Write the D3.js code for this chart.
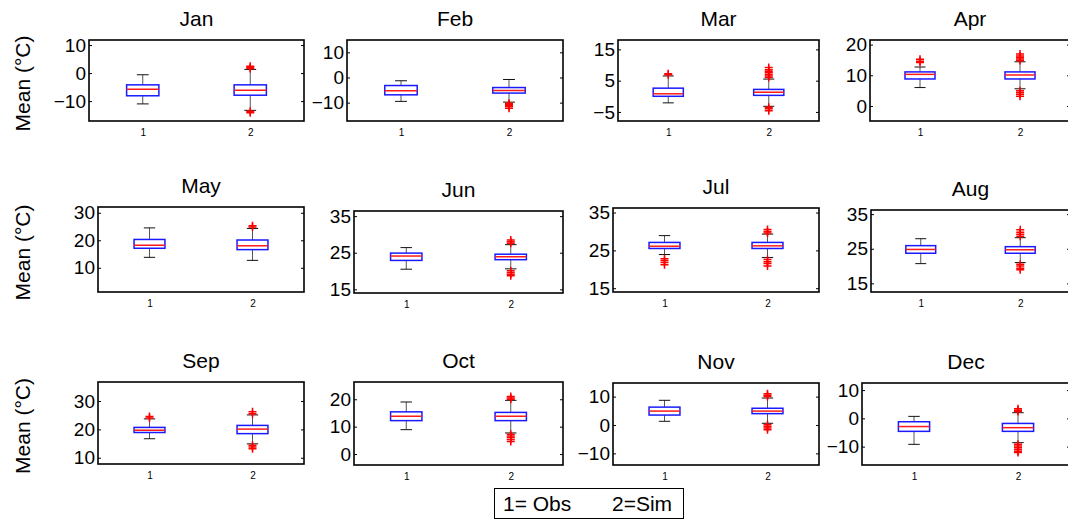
<!DOCTYPE html>
<html>
<head>
<meta charset="utf-8">
<script src="https://cdn.jsdelivr.net/npm/d3@7"></script>
<style>
  body { margin: 0; background: #fff; }
  svg { display: block; font-family: "Liberation Sans", Arial, sans-serif; }
</style>
</head>
<body>
<svg></svg>
<script>
const width = 1068;
const height = 519;

const months = ["Jan", "Feb", "Mar", "Apr", "May", "Jun", "Jul", "Aug", "Sep", "Oct", "Nov", "Dec"];
const groups = [1, 2];
const yLabel = "Mean (°C)";
const legendItems = ["1= Obs", "2=Sim"];

const yTicks = [
	[-10, 0, 10], [-10, 0, 10], [-5, 5, 15], [0, 10, 20],
	[10, 20, 30], [15, 25, 35], [15, 25, 35], [15, 25, 35],
	[10, 20, 30], [0, 10, 20], [-10, 0, 10], [-10, 0, 10]
];
const yLimits = [
	[-17.1, 11.8], [-17.3, 14.9], [-7.9, 18], [-4.9, 21.5],
	[1.2, 32.1], [14, 36.4], [14, 36.2], [12.5, 36.2],
	[7.8, 36.7], [-4, 26.3], [-14.1, 14.8], [-16.5, 12.5]
];

// [lower whisker, q1, median, q3, upper whisker]
const obsStats = [
	[-11, -8.1, -5.8, -4.2, -0.6],
	[-9.5, -6.9, -5.3, -3.2, -1.3],
	[-2.1, 0, 0.8, 2.6, 6.5],
	[6.0, 8.8, 10.3, 11.1, 12.7],
	[13.8, 17.1, 18.2, 20.3, 24.5],
	[20.5, 22.9, 24.1, 24.9, 26.4],
	[23.9, 25.5, 26.1, 27.1, 28.9],
	[20.7, 23.7, 24.8, 25.9, 27.9],
	[16.7, 18.9, 19.7, 20.7, 23.7],
	[8.9, 12.2, 13.8, 15.4, 19.0],
	[1.3, 3.5, 4.9, 6.3, 8.7],
	[-9.2, -4.6, -2.9, -1.2, 0.7]
];
const simStats = [
	[-13.3, -7.9, -6.1, -4.2, 1.3],
	[-9.8, -6.2, -5.2, -4.0, -0.8],
	[-3.2, 0.3, 1.3, 2.2, 5.5],
	[5.6, 8.8, 10.1, 11.1, 14.4],
	[12.7, 16.6, 18.0, 20.1, 24.3],
	[20.6, 23.1, 23.9, 24.6, 27.2],
	[23.1, 25.5, 26.2, 27.1, 29.3],
	[21.0, 23.7, 24.7, 25.6, 28.2],
	[14.9, 18.5, 20.1, 21.4, 25.1],
	[7.7, 12.2, 13.8, 15.2, 19.6],
	[0.6, 4.0, 4.9, 5.9, 9.5],
	[-8.6, -4.6, -3.3, -1.8, 2.0]
];
const obsOutliers = [
	[], [], [6.9, 7.2], [14.2, 14.6, 15.2],
	[], [], [22.8, 22.3, 21.8, 21.2], [],
	[24.0, 24.5], [], [], []
];
const simOutliers = [
	[1.6, 2.0, 2.4, -13.6, -14.2],
	[-10.2, -10.6, -11, -11.5, -12.2],
	[6, 6.5, 7, 7.5, 8, 8.5, 9.2, -3.5, -4.0, -4.6],
	[14.8, 15.3, 15.8, 16.3, 16.9, 5.0, 4.4, 3.8, 3.2],
	[24.8, 25.3],
	[27.6, 28.0, 28.5, 20.1, 19.6, 19.1, 18.7],
	[29.6, 30.0, 30.5, 22.6, 22.0, 21.5, 20.9],
	[28.6, 29.2, 29.8, 30.5, 20.5, 20, 19.4, 18.9],
	[25.5, 26.2, 14.4, 13.8, 13.2],
	[20, 20.5, 21, 7.2, 6.6, 6.0, 5.3, 4.6],
	[10, 10.5, 11, 0.1, -0.5, -1.1, -1.7],
	[2.4, 2.9, 3.4, -9.2, -9.8, -10.4, -11, -11.6, -12.1]
];

// axes boxes in pixels: [left, top, right, bottom]
const panels = [
	[89, 40, 304, 121], [347, 40, 563, 121], [618, 40, 819, 121], [870, 40, 1070, 121],
	[98, 207, 304, 292], [354, 211, 563, 293], [613, 208, 819, 292], [871, 210, 1070, 292],
	[98, 382, 304, 464], [354, 382, 563, 465], [613, 383, 819, 465], [862, 383, 1070, 465]
];

const svg = d3.select("svg").attr("width", width).attr("height", height);

function drawBox(g, x, y, stats, outliers, pos) {
	const [lo, q1, med, q3, hi] = stats;
	const cx = x(pos);
	const halfBox = (x(pos + 0.15) - x(pos - 0.15)) / 2;
	const halfCap = (x(pos + 0.055) - x(pos - 0.055)) / 2;
	const b = g.append("g");

	// whiskers
	b.append("line").attr("x1", cx).attr("x2", cx).attr("y1", y(q3)).attr("y2", y(hi))
		.attr("stroke", "#555").attr("stroke-width", 1);
	b.append("line").attr("x1", cx).attr("x2", cx).attr("y1", y(q1)).attr("y2", y(lo))
		.attr("stroke", "#555").attr("stroke-width", 1);
	[lo, hi].forEach(v => {
		b.append("line").attr("x1", cx - halfCap).attr("x2", cx + halfCap)
			.attr("y1", y(v)).attr("y2", y(v))
			.attr("stroke", "#111").attr("stroke-width", 1);
	});

	// box
	b.append("rect")
		.attr("x", cx - halfBox).attr("y", y(q3))
		.attr("width", halfBox * 2).attr("height", y(q1) - y(q3))
		.attr("fill", "none").attr("stroke", "#1a1aff").attr("stroke-width", 1.5);

	// median
	b.append("line").attr("x1", cx - halfBox).attr("x2", cx + halfBox)
		.attr("y1", y(med)).attr("y2", y(med))
		.attr("stroke", "#ff1a1a").attr("stroke-width", 1.5);

	// outliers
	const s = 4;
	b.selectAll(".out").data(outliers).enter().append("path")
		.attr("class", "out")
		.attr("d", v => `M${cx - s},${y(v)}H${cx + s}M${cx},${y(v) - s}V${y(v) + s}`)
		.attr("stroke", "#ff0000").attr("stroke-width", 1.5).attr("fill", "none");
}

months.forEach((m, i) => {
	const [left, top, right, bottom] = panels[i];
	const x = d3.scaleLinear().domain([0.5, 2.5]).range([left, right]);
	const y = d3.scaleLinear().domain(yLimits[i]).range([bottom, top]);
	const g = svg.append("g");

	g.append("text")
		.attr("x", (left + right) / 2).attr("y", top - 14)
		.attr("text-anchor", "middle")
		.attr("font-size", 21)
		.text(m);

	// y axis left with labels, right without
	const ax = g.append("g").attr("transform", `translate(${left},0)`)
		.call(d3.axisLeft(y).tickValues(yTicks[i]).tickSize(-3).tickPadding(3));
	ax.select(".domain").remove();
	ax.selectAll("text").attr("font-size", 19).attr("fill", "#000")
		.attr("font-family", "Liberation Sans, Arial, sans-serif");
	ax.selectAll("line").attr("stroke", "#000");

	const axr = g.append("g").attr("transform", `translate(${right},0)`)
		.call(d3.axisRight(y).tickValues(yTicks[i]).tickSize(-3).tickFormat(""));
	axr.select(".domain").remove();
	axr.selectAll("line").attr("stroke", "#000");

	const axb = g.append("g").attr("transform", `translate(0,${bottom})`)
		.call(d3.axisBottom(x).tickValues(groups).tickFormat(d3.format("d")).tickSize(0).tickPadding(8));
	axb.select(".domain").remove();
	axb.selectAll("text").attr("font-size", 10).attr("fill", "#000")
		.attr("font-family", "Liberation Sans, Arial, sans-serif");

	drawBox(g, x, y, obsStats[i], obsOutliers[i], groups[0]);
	drawBox(g, x, y, simStats[i], simOutliers[i], groups[1]);

	g.append("rect")
		.attr("x", left).attr("y", top)
		.attr("width", right - left).attr("height", bottom - top)
		.attr("fill", "none").attr("stroke", "#000").attr("stroke-width", 1.6);

	if (i % 4 === 0) {
		const cy = (top + bottom) / 2 + 3;
		svg.append("text")
			.attr("transform", `translate(30,${cy}) rotate(-90)`)
			.attr("text-anchor", "middle")
			.attr("font-size", 21)
			.text(yLabel);
	}
});

// legend box
const legend = svg.append("g");
legend.append("rect")
	.attr("x", 494.5).attr("y", 488.5).attr("width", 189).attr("height", 30)
	.attr("fill", "#fff").attr("stroke", "#000").attr("stroke-width", 1);
legend.selectAll("text").data(legendItems).enter().append("text")
	.attr("x", (d, k) => k === 0 ? 503 : 612)
	.attr("y", 511)
	.attr("font-size", 21)
	.text(d => d);
</script>
</body>
</html>
